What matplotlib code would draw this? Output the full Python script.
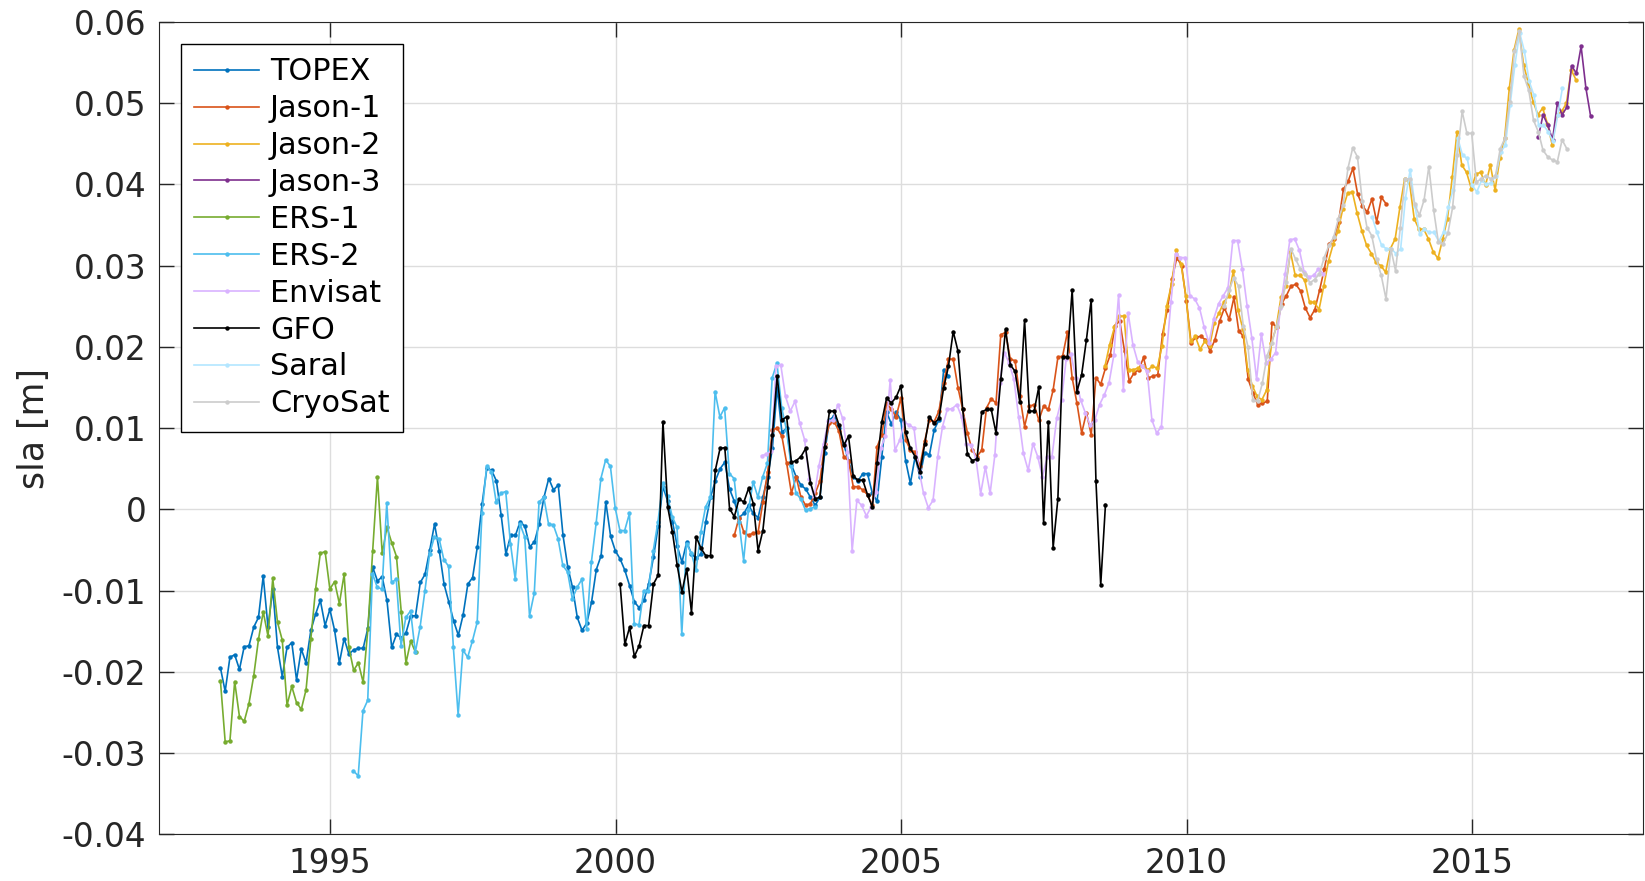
import numpy as np
import matplotlib
matplotlib.use('Agg')
from matplotlib import pyplot as plt
from matplotlib.ticker import FuncFormatter, MultipleLocator

plt.rcParams['font.family'] = ['DejaVu Sans']
plt.rcParams['axes.unicode_minus'] = False

# monthly sea level anomalies, mm; each series starts at its first month (decimal year)
topex_start = 1993.08
topex_mm = [-19.5, -22.4, -18.2, -17.9, -19.7, -16.9, -16.8, -14.5, -13.3, -8.2,
            -14.5, -9.8, -17.0, -20.6, -17.0, -16.4, -21.0, -17.2, -18.9, -14.9,
            -12.9, -11.2, -14.3, -12.3, -14.9, -18.9, -15.9, -17.8, -17.3, -17.1,
            -17.1, -14.6, -7.1, -8.8, -8.3, -11.2, -17.0, -15.4, -15.8, -15.2,
            -13.1, -13.1,
            -9.0, -8.0, -5.0, -1.8, -5.1, -9.2, -11.4, -13.7, -15.5, -13.0,
            -9.2, -8.4, -4.6, 0.7, 5.1, 4.8, 3.5, -0.7, -5.5, -3.2,
            -3.2, -1.5, -2.1, -4.6, -4.0, -1.8, 1.5, 3.8, 2.4, 3.0,
            -3.2, -7.1, -9.6, -13.3, -14.9, -14.0, -11.4, -7.4, -5.7, 0.9,
            -3.3, -5.1, -6.1, -7.5, -9.4, -11.4, -12.1, -11.2, -9.2,
            -5.9, -2.1, 2.8, 1.0, -1.5, -4.5, -6.5, -4.0, -5.5, -6.0,
            -5.5, -1.5, 1.5, 3.5, 5.0, 5.8, 2.5, 1.0, -1.0, -0.5,
            0.5, -0.5, -1.0, 1.5, 4.0, 7.5, 15.0, 9.5, 10.0, 5.5,
            4.0, 3.0, 2.5, 1.5, 0.5, 1.5, 7.0, 11.0, 11.5, 10.0,
            8.0, 6.0, 4.0, 3.5, 4.4, 4.4, 2.0, 1.0,
            6.5, 12.0, 10.5, 12.0, 11.0, 6.0, 3.2, 6.5, 4.0, 7.0,
            6.7, 9.8, 11.0, 17.2, 16.4]

jason1_start = 2002.08
jason1_mm = [-3.2, -1.0, -2.8, -3.2, -2.9, -2.8, 0.9, 4.6, 9.8, 10.0,
             9.0, 5.7, 2.0, 4.0, 1.5, 0.5, 0.7, 2.0, 3.5, 8.1,
             10.6, 10.8, 9.6, 6.5, 6.0, 2.8, 2.8, 2.4, 1.8, 0.5,
             7.7,
             9.2, 13.1, 12.3, 11.4, 13.7, 8.6, 7.3, 7.1, 5.3, 8.4,
             11.0, 10.8, 12.1, 15.6, 18.5, 18.5, 15.0, 12.3, 9.4, 7.3,
             6.5, 7.3, 12.5, 13.6, 13.1, 21.5, 21.8, 18.5, 18.3, 14.0,
             10.2, 12.7, 12.9, 11.0, 12.7, 12.3, 14.7, 18.7, 18.9, 21.8,
             16.2, 13.1, 9.4, 11.9, 9.2, 16.2, 15.4, 17.4, 19.0,
             22.6, 23.2, 19.5, 15.8, 16.8, 17.2, 18.7, 16.2, 16.4, 16.6,
             21.6, 24.6, 28.4, 31.0, 30.0, 25.7, 20.5, 21.2, 21.3, 20.9,
             19.5, 20.9, 23.2, 24.8, 23.4, 26.1, 22.0, 21.3, 16.0, 14.3,
             12.9, 13.1, 13.3, 23.0, 22.4, 25.3, 26.3, 27.5, 27.7, 26.9,
             24.8, 23.6, 24.6, 27.0, 29.6, 32.7, 33.3, 35.4, 39.4, 40.4,
             42.0,
             38.8, 37.4, 36.6, 38.2, 35.4, 38.4, 37.6]

jason2_start = 2008.57
jason2_mm = [17.6, 20.3, 22.4,
             23.8, 23.8, 17.2, 17.2, 17.4, 17.6, 17.2, 17.6, 17.4, 20.1,
             25.1, 27.7, 31.9, 30.2, 26.3, 20.7, 21.3, 19.7, 20.7, 20.1,
             23.0, 24.2, 25.5, 26.3, 29.4, 24.5, 22.2, 17.2, 15.2, 13.9,
             13.5, 14.7, 20.5, 22.4, 26.1, 27.5, 31.7, 28.8, 28.8, 28.2,
             25.5, 25.5, 24.6, 27.5, 30.6, 32.7, 34.3, 37.0, 38.9, 39.1,
             36.5, 34.3, 32.5, 31.5, 30.4, 30.0, 29.2, 32.1, 33.3, 37.2,
             40.7, 40.3, 35.8, 34.5, 34.5, 33.3, 31.7, 30.9, 33.3, 35.8,
             40.9, 46.5, 42.4, 41.5, 39.5, 41.3, 41.5, 39.9, 42.4, 39.3,
             43.2, 45.7, 51.9, 56.6, 59.1, 54.7, 52.5, 50.2, 48.6, 49.4,
             47.5, 44.9, 48.5, 49.0, 50.0, 54.1, 52.9]

jason3_start = 2016.16
jason3_mm = [45.8, 48.6, 47.3, 45.5, 50.0, 48.6, 49.5, 54.6, 53.7, 57.0, 51.9, 48.4]

ers1_start = 1993.08
ers1_mm = [-21.1, -28.6, -28.5, -21.2, -25.5, -26.1, -23.9, -20.5, -16.0, -12.6,
           -15.6, -8.5, -13.9, -16.1, -24.1, -21.8, -23.8, -24.6, -22.2, -16.0,
           -9.8, -5.4, -5.2, -9.8, -8.9, -11.6, -8.0, -17.0, -19.8, -18.9,
           -21.3, -14.7, -5.1, 4.0, -5.4, -2.2, -4.1, -5.8, -12.6, -18.9,
           -16.2, -17.6]

ers2_start = 1995.41
ers2_mm = [-32.2, -32.8, -24.8, -23.5, -7.9, -9.6, -9.8, 0.8, -9.0, -8.6,
           -16.8, -13.3, -12.5, -17.6,
           -14.5, -10.1, -5.5, -3.4, -3.6, -6.2, -7.0, -17.0, -25.3, -17.3,
           -18.2, -16.2, -13.9, -0.5, 5.3, 4.6, 0.9, 2.0, 2.2, -4.2,
           -8.6, -1.8, -3.4, -13.1, -10.3, 0.9, 1.5, -1.8, -1.9, -3.6,
           -6.9, -7.7, -11.0, -9.6, -8.6, -14.7, -6.5, -1.7, 3.8, 6.1,
           5.3, 0.2, -2.6, -2.6, -0.5, -14.1, -14.2, -10.0, -10.0,
           -5.1, -1.5, 3.2, 1.6, -0.9, -2.2, -15.4, -4.2, -5.4, -7.5,
           -2.8, 0.3, 1.5, 14.5, 11.4, 12.5, 4.4, 3.8, -1.5, -6.3,
           -0.1, 3.4, 1.5, 4.0, 5.7, 16.2, 18.0, 12.5, 9.8, 5.3,
           2.0, 1.3, -0.1, 0.1, 0.3]

envisat_start = 2002.56
envisat_mm = [6.6, 6.8, 7.2, 17.6, 17.8, 13.9, 12.1, 13.3, 10.6, 8.6,
              3.8, 1.5, 5.3, 8.1, 10.9, 11.0, 12.9, 11.2, 7.1, -5.1,
              1.1, 0.5, -0.8, 0.3, 2.2,
              7.5, 9.0, 15.9, 7.3, 8.5, 10.7, 10.4, 10.0, 5.0, 2.0,
              0.2, 1.1, 6.5, 10.2, 12.3, 12.4, 12.9, 11.4, 8.1, 7.9,
              6.3, 1.9, 5.2, 2.0, 6.7, 15.6, 19.3, 18.0, 16.0, 11.4,
              6.9, 4.8, 8.1, 6.5, 4.0, 6.5, 6.5, 11.2, 13.5, 18.5,
              19.1, 16.2, 13.5, 11.9, 10.4, 11.0, 12.9, 14.1, 15.6,
              19.0, 26.4, 14.7, 24.2, 20.3, 18.2, 17.6, 17.0, 11.0, 9.4,
              10.2, 18.7, 25.5, 31.4, 31.0, 31.0, 26.3, 25.9, 24.8, 22.4,
              20.5, 23.5, 25.3, 26.3, 27.3, 33.1, 33.1, 29.6, 25.1, 21.1,
              16.0, 21.6, 18.0, 18.5, 19.3, 24.8, 29.0, 33.2, 33.3, 31.9,
              29.2, 28.6, 28.8, 29.6, 29.0]

gfo_start = 2000.08
gfo_mm = [-9.2, -16.6, -14.5, -18.1, -16.8, -14.3, -14.3, -9.2, -8.1, 10.8,
          0.3, -2.8, -6.9, -10.2, -7.3, -12.7, -3.4, -4.8, -5.7, -5.7,
          4.8, 7.5, 7.6, 0.1, -0.9, 1.3, 0.9, 2.6, 0.7, -5.1,
          -2.6, 2.8, 9.2, 16.4, 11.0, 11.4, 5.8, 6.0, 6.5, 7.5,
          3.3, 1.3, 1.5, 7.7, 12.1, 12.1, 10.4, 7.9, 9.0, 4.1,
          3.6, 3.6, 1.8, 0.3, 5.7, 10.8, 13.7, 13.1, 13.8, 15.2,
          9.5, 7.5, 6.5, 4.6, 8.0, 11.4, 10.6, 11.2, 15.0, 17.6,
          21.9, 19.5, 12.3, 6.8, 6.0, 6.2, 12.0, 12.3, 12.3, 9.4,
          16.0, 22.2, 17.8, 17.0, 13.2, 23.3, 12.1, 12.1, 15.1, -1.7,
          10.8, -4.7, 1.3, 18.7, 18.8, 27.0, 14.5, 16.6, 20.9, 25.8,
          3.5, -9.3, 0.6]

saral_start = 2013.25
saral_mm = [36.0, 34.1, 32.5, 32.1, 32.1, 31.5, 32.1, 38.3, 41.8, 37.4,
            33.9, 34.5, 34.1, 34.1, 33.0, 34.1, 37.2, 39.3, 45.7, 43.6,
            43.2, 39.9, 39.1, 40.5, 40.0, 40.2, 41.1, 44.0, 44.8, 49.8,
            54.7, 58.7, 56.4, 52.7, 51.0, 47.3, 47.3, 46.5, 45.3, 48.5,
            51.9]

cryosat_start = 2010.66
cryosat_mm = [25.0, 27.0, 28.5, 27.5, 22.6, 20.0, 13.5, 13.3, 15.5, 18.9,
              20.5, 22.6, 25.0, 28.0, 32.1, 30.8, 29.6, 29.0, 27.9, 28.3,
              29.0, 31.0, 32.5, 33.5, 35.8, 37.5, 42.0, 44.5,
              43.4, 38.0, 34.7, 33.7, 30.8, 28.8, 25.9, 32.1, 29.4, 34.7,
              40.7, 40.7, 37.6, 36.2, 38.1, 42.2, 36.9, 32.9, 32.7, 34.0,
              37.2, 43.6, 49.0, 46.3, 46.3, 40.3, 40.7, 41.1, 40.7, 41.0,
              44.4, 45.7, 50.2, 56.4, 58.9, 53.3, 51.6, 47.9, 46.5, 44.2,
              43.4, 43.0, 42.8, 45.5, 44.4]

names = ['TOPEX', 'Jason-1', 'Jason-2', 'Jason-3', 'ERS-1', 'ERS-2',
         'Envisat', 'GFO', 'Saral', 'CryoSat']
starts = [topex_start, jason1_start, jason2_start, jason3_start, ers1_start,
          ers2_start, envisat_start, gfo_start, saral_start, cryosat_start]
series = [topex_mm, jason1_mm, jason2_mm, jason3_mm, ers1_mm, ers2_mm,
          envisat_mm, gfo_mm, saral_mm, cryosat_mm]
colors = ['#0072BD', '#D95319', '#EDB120', '#7E2F8E', '#77AC30', '#4DBEEE',
          '#D9B3FF', '#000000', '#B3E6FF', '#CCCCCC']

fig = plt.figure(figsize=(16.45, 8.81), dpi=100)
ax = fig.add_axes([0.0965, 0.053, 0.9025, 0.922])

for name, t0, vals, col in zip(names, starts, series, colors):
    t = t0 + np.arange(len(vals)) / 12.0
    ax.plot(t, np.array(vals) / 1000.0, '-', marker='o', color=col, lw=1.2,
            ms=3.2, mew=0, label=name)

ax.set_xlim(1992, 2018)
ax.set_ylim(-0.04, 0.06)
ax.set_xticks([1995, 2000, 2005, 2010, 2015])
ax.yaxis.set_major_locator(MultipleLocator(0.01))
ax.yaxis.set_major_formatter(FuncFormatter(lambda v, p: '%g' % round(v, 3)))
ax.grid(True, color='#dddddd', lw=1)
ax.set_axisbelow(True)
ax.tick_params(direction='in', top=True, right=True, length=11, width=1,
               labelsize=23.5, colors='#262626', pad=9)
for s in ax.spines.values():
    s.set_color('#262626')
ax.set_ylabel('sla [m]', fontsize=25, color='#262626', labelpad=8)

leg = ax.legend(loc='upper left', fontsize=21.8, borderaxespad=0.72,
                fancybox=False, edgecolor='k', framealpha=1,
                handlelength=2.15, labelspacing=0.26, borderpad=0.45,
                handletextpad=0.35)
leg.get_frame().set_linewidth(1.0)

fig.savefig('out.png', dpi=100)
